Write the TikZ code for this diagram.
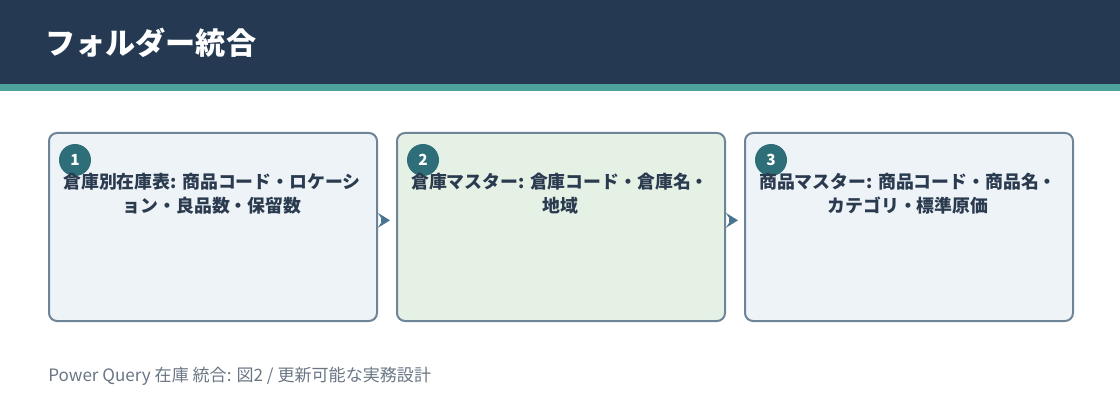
\documentclass[tikz,border=0pt]{standalone}
\usepackage{fontspec}
\setmainfont{Noto Sans CJK JP}
\usetikzlibrary{arrows.meta}

\definecolor{headbg}{HTML}{253A52}
\definecolor{stripe}{HTML}{4BA39B}
\definecolor{boxline}{HTML}{6E8497}
\definecolor{boxblue}{HTML}{EEF3F8}
\definecolor{boxgreen}{HTML}{E6F1E6}
\definecolor{badge}{HTML}{2D6E78}
\definecolor{bodytext}{HTML}{2B3B4F}
\definecolor{flowcol}{HTML}{4A7390}
\definecolor{foot}{HTML}{6A7684}

\tikzset{
  stepbox/.style={draw=boxline, line width=1.5pt, rounded corners=6pt,
    minimum width=246pt, minimum height=141pt, anchor=north west, inner sep=0pt},
  badgenode/.style={circle, fill=badge, minimum size=24pt, inner sep=0pt,
    text=white, font=\bfseries\fontsize{11.5}{13}\selectfont},
  steptext/.style={text=bodytext, align=center, anchor=north, inner sep=0pt,
    font=\bfseries\fontsize{13.4}{17.5}\selectfont},
  flow/.style={draw=flowcol, line width=3pt,
    -{Stealth[length=9pt,width=11pt,inset=3.5pt]}, shorten <=2pt, shorten >=4.5pt}
}

\begin{document}
\begin{tikzpicture}[x=0.75pt, y=-0.75pt]
        \useasboundingbox (0,0) rectangle (1120,420);

        % Header
        \fill[headbg] (0,0) rectangle (1120,84);
        \fill[stripe] (0,84) rectangle (1120,91);
        \node[anchor=west, text=white, font=\bfseries\fontsize{22.6}{26}\selectfont, inner sep=0pt] (title) at (45,43) {フォルダー統合};

        % Step boxes
        \node[stepbox, fill=boxblue] (b1) at (48,132) {};
        \node[stepbox, fill=boxgreen] (b2) at (396,132) {};
        \node[stepbox, fill=boxblue] (b3) at (744,132) {};

        % Badges
        \node[badgenode] (n1) at (75,160) {1};
        \node[badgenode] (n2) at (423,160) {2};
        \node[badgenode] (n3) at (771,160) {3};

        % Box texts
        \node[steptext] (t1) at (212,173) {倉庫別在庫表: 商品コード・ロケーシ\\ョン・良品数・保留数};
        \node[steptext] (t2) at (560,173) {倉庫マスター: 倉庫コード・倉庫名・\\地域};
        \node[steptext] (t3) at (908,173) {商品マスター: 商品コード・商品名・\\カテゴリ・標準原価};

        % Flow arrows
        \draw[flow] ([yshift=5pt]b1.east) -- ([yshift=5pt]b2.west);
        \draw[flow] ([yshift=5pt]b2.east) -- ([yshift=5pt]b3.west);

        % Footer
        \node[anchor=west, text=foot, font=\fontsize{12.8}{15}\selectfont, inner sep=0pt] (note) at (48,376) {Power Query 在庫 統合: 図2 / 更新可能な実務設計};
\end{tikzpicture}
\end{document}
